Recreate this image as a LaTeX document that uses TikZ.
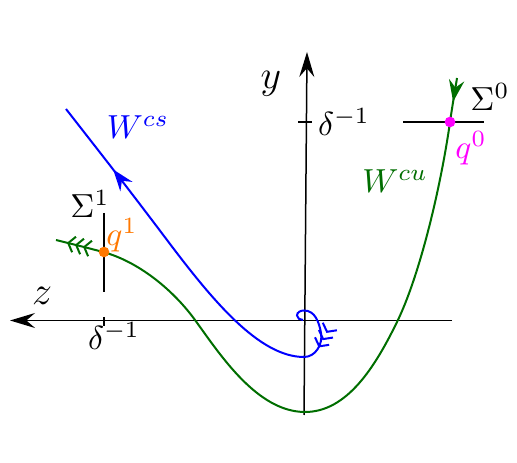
\documentclass[tikz,border=0pt]{standalone}
\usetikzlibrary{arrows.meta,decorations.markings}
\definecolor{cblue}{RGB}{0,0,255}
\definecolor{cgreen}{RGB}{0,110,0}
\definecolor{corange}{RGB}{255,120,0}
\definecolor{cmag}{RGB}{255,0,255}
\tikzset{
  tripletip/.tip={Straight Barb[length=1.8pt,width=4.8pt,sep=0pt]Straight Barb[length=1.8pt,width=4.8pt,sep=0pt]Straight Barb[length=1.8pt,width=4.8pt]},
  singletip/.tip={Stealth[length=6.5pt,width=4.6pt,inset=2.2pt]}
}
\begin{document}
\begin{tikzpicture}[x=0.3pt,y=0.3pt,
  axisline/.style={line width=0.45pt,-{Stealth[length=7.5pt,width=4.5pt,inset=2.6pt]}},
  plainline/.style={line width=0.5pt},
  curveline/.style={line width=0.6pt},
  lbl/.style={inner sep=0pt},
  biglbl/.style={inner sep=0pt,font=\large},
  dotmark/.style={circle,fill,inner sep=0pt,minimum size=3.2pt}]
\useasboundingbox (0,0) rectangle (517,463);

% axes
\coordinate (zstart) at (452,142.5);
\coordinate (ztip) at (10,142.5);
\coordinate (ystart) at (304,48);
\coordinate (ytip) at (307,411);
\draw[axisline] (zstart) -- (ztip);
\draw[axisline] (ystart) -- (ytip);

% ticks
\coordinate (zt1) at (104,146);
\coordinate (zt2) at (104,137);
\coordinate (yt1) at (298,341);
\coordinate (yt2) at (312,341);
\draw[plainline] (zt1) -- (zt2);
\draw[plainline] (yt1) -- (yt2);

% green curve W^cu
\draw[curveline,cgreen,postaction={decorate},
  decoration={markings,
    mark=at position 7.2pt with {\arrow{singletip}},
    mark=at position -3.4pt with {\arrow{tripletip}}}]
  (457,385) .. controls +(-99:15) and +(82:15) .. (450,341)
  .. controls +(-98:60) and +(64:55) .. (397,141)
  .. controls +(-116:50) and +(0:42) .. (305,51)
  .. controls +(180:48) and +(-54:42) .. (195,143)
  .. controls +(126:38) and +(-15:36) .. (103,211)
  .. controls +(165:16) and +(-14:16) .. (56,223);

% blue curve W^cs
\draw[curveline,cblue,postaction={decorate},
  decoration={markings,
    mark=at position 19pt with {\arrow{tripletip}},
    mark=at position -23pt with {\arrow{singletip}}}]
  (303,143) .. controls +(175:3) and +(-90:3) .. (297,147.5)
  .. controls +(90:3.4) and +(180:3.4) .. (304,152.5)
  .. controls +(0:11) and +(100:11) .. (321,130)
  .. controls +(-80:11.5) and +(0:11.5) .. (304,106)
  .. controls +(180:45) and +(-53:75) .. (167,223)
  .. controls +(127:64.7) and +(-52:64.7) .. (66,354);

% sections
\coordinate (s1top) at (104,250);
\coordinate (s1bot) at (104,171);
\coordinate (s0left) at (403,341);
\coordinate (s0right) at (484,341);
\draw[plainline] (s1top) -- (s1bot);
\draw[plainline] (s0left) -- (s0right);

% points
\node[dotmark,corange] (q1) at (104,211) {};
\node[dotmark,cmag] (q0) at (450,341) {};

% labels
\node[biglbl] (ylab) at (271,379) {$y$};
\node[biglbl] (zlab) at (42,167) {$z$};
\node[lbl] (dz) at (114,127) {$\delta^{-1}$};
\node[lbl] (dy) at (344,341) {$\delta^{-1}$};
\node[lbl] (sig1) at (90,259) {$\Sigma^1$};
\node[lbl,corange] (q1lab) at (122,228) {$q^1$};
\node[lbl] (sig0) at (490,366) {$\Sigma^0$};
\node[lbl,cmag] (q0lab) at (471,315) {$q^0$};
\node[lbl,cblue] (wcs) at (138,336) {$W^{cs}$};
\node[lbl,cgreen] (wcu) at (395,282) {$W^{cu}$};
\end{tikzpicture}
\end{document}
